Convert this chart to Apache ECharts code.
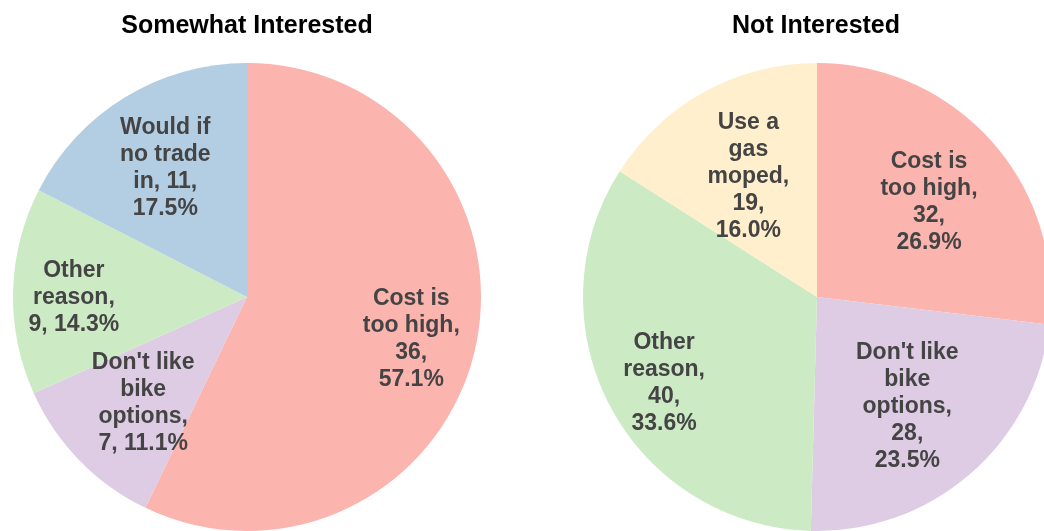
<!DOCTYPE html>
<html>
<head>
<meta charset="utf-8">
<script src="https://cdn.jsdelivr.net/npm/echarts@6/dist/echarts.min.js"></script>
<style>
html,body{margin:0;padding:0;background:#fff;}
#chart{width:1044px;height:531px;}
</style>
</head>
<body>
<div id="chart"></div>
<script>
// ---- data ----
const leftTitle = 'Somewhat Interested';
const rightTitle = 'Not Interested';
const leftCategories = ['Cost is too high', "Don't like bike options", 'Other reason', 'Would if no trade in'];
const leftValues = [36, 7, 9, 11];
const rightCategories = ['Cost is too high', "Don't like bike options", 'Other reason', 'Use a gas moped'];
const rightValues = [32, 28, 40, 19];

// ---- label wrapping (text layout only) ----
const leftNameLines = ['Cost is\ntoo high', "Don't like\nbike\noptions", 'Other\nreason', 'Would if\nno trade\nin'];
const leftSeps = [[',\n', ',\n'], [',\n', ', '], [',\n', ', '], [', ', ',\n']];
const rightNameLines = ['Cost is\ntoo high', "Don't like\nbike\noptions", 'Other\nreason', 'Use a\ngas\nmoped'];
const rightSeps = [[',\n', ',\n'], [',\n', ',\n'], [',\n', ',\n'], [',\n', ',\n']];

// ---- style ----
const colorMap = {
  'Cost is too high': '#fbb4ae',
  "Don't like bike options": '#decbe4',
  'Other reason': '#ccebc5',
  'Would if no trade in': '#b3cde3',
  'Use a gas moped': '#ffefcc'
};
const R = 234;
const leftCenter = [247, 297];
const rightCenter = [817, 297];
const leftLabelR = [0.72, 0.62, 0.74, 0.67];
const rightLabelR = [0.64, 0.59, 0.74, 0.61];
const labelDy = 5;

function buildSeries(cats, vals, nameLines, seps, center, labelR) {
  const total = vals.reduce((a, b) => a + b, 0);
  const mids = [];
  let acc = 0;
  vals.forEach(v => { mids.push((acc + v / 2) / total * Math.PI * 2); acc += v; });
  return {
    type: 'pie',
    center: center,
    radius: [0, R],
    startAngle: 90,
    clockwise: true,
    silent: true,
    animation: false,
    avoidLabelOverlap: false,
    itemStyle: { borderWidth: 0 },
    label: {
      show: true,
      position: 'inside',
      color: '#444',
      fontFamily: 'Liberation Sans, Arial, sans-serif',
      fontWeight: 'bold',
      fontSize: 23,
      lineHeight: 27,
      align: 'center',
      formatter: function (p) {
        const i = p.dataIndex;
        const pct = (vals[i] / total * 100).toFixed(1) + '%';
        return nameLines[i] + seps[i][0] + vals[i] + seps[i][1] + pct;
      }
    },
    labelLine: { show: false },
    labelLayout: function (p) {
      const i = p.dataIndex;
      const a = mids[i];
      return {
        x: center[0] + labelR[i] * R * Math.sin(a),
        y: center[1] - labelR[i] * R * Math.cos(a) + labelDy,
        align: 'center',
        verticalAlign: 'middle'
      };
    },
    data: cats.map((c, i) => ({ name: c, value: vals[i], itemStyle: { color: colorMap[c] } }))
  };
}

const chart = echarts.init(document.getElementById('chart'), null, { renderer: 'canvas' });
chart.setOption({
  backgroundColor: '#fff',
  animation: false,
  title: [
    { text: leftTitle, left: 242, top: 9, textAlign: 'center',
      textStyle: { fontFamily: 'Liberation Sans, Arial, sans-serif', fontWeight: 'bold', fontSize: 25, color: '#000' } },
    { text: rightTitle, left: 811, top: 9, textAlign: 'center',
      textStyle: { fontFamily: 'Liberation Sans, Arial, sans-serif', fontWeight: 'bold', fontSize: 25, color: '#000' } }
  ],
  series: [
    buildSeries(leftCategories, leftValues, leftNameLines, leftSeps, leftCenter, leftLabelR),
    buildSeries(rightCategories, rightValues, rightNameLines, rightSeps, rightCenter, rightLabelR)
  ]
});
</script>
</body>
</html>
